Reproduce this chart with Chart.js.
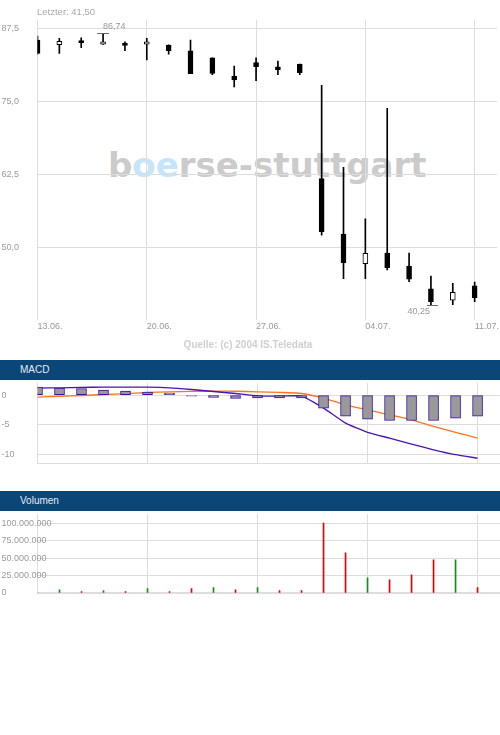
<!DOCTYPE html>
<html>
<head>
<meta charset="utf-8">
<script src="https://cdn.jsdelivr.net/npm/chart.js@4.4.1/dist/chart.umd.min.js"></script>
<style>
  html, body { margin: 0; padding: 0; background: #fff; }
  body { width: 500px; height: 735px; position: relative; overflow: hidden;
         font-family: "Liberation Sans", Arial, sans-serif; }
  .abs { position: absolute; }
  canvas { position: absolute; left: 0; }
  #wm { left: 108px; top: 148px; font: bold 34px "DejaVu Sans"; line-height: 34px;
        color: #cbcbcb; white-space: nowrap; }
  #wm span { color: #c6e5fa; }
  #last { left: 37px; top: 6px; font-size: 9.5px; line-height: 11px; color: #a8a8a8; }
  #src { left: 0; width: 496px; top: 339px; text-align: center; font-weight: bold;
         font-size: 10px; line-height: 12px; color: #cfcfcf; }
  .head { left: 0; width: 500px; height: 20px; background: #0b4679; color: #e4ebf2;
          font-size: 10px; line-height: 20px; padding-left: 20px; box-sizing: border-box; }
</style>
</head>
<body>
<div id="wm" class="abs">b<span>oe</span>rse-stuttgart</div>
<canvas id="price" width="500" height="340" style="top:0"></canvas>
<div id="last" class="abs"></div>
<div id="src" class="abs">Quelle: (c) 2004 IS.Teledata</div>

<div class="abs head" style="top:360px">MACD</div>
<canvas id="macd" width="500" height="85" style="top:380px"></canvas>

<div class="abs head" style="top:491px">Volumen</div>
<canvas id="vol" width="500" height="86" style="top:511px"></canvas>

<script>
/* ── Data ─────────────────────────────────────────────────── */
const dates = ['13.06.','14.06.','15.06.','16.06.','17.06.',
               '20.06.','21.06.','22.06.','23.06.','24.06.',
               '27.06.','28.06.','29.06.','30.06.','01.07.',
               '04.07.','05.07.','06.07.','07.07.','08.07.',
               '11.07.'];
const weekTicks = ['13.06.','20.06.','27.06.','04.07.','11.07.'];

const open  = [85.6, 84.8, 85.5, 84.9, 85.05, 84.9, 84.75, 83.75, 82.55, 79.45,
               81.75, 81.0, 81.5, 61.9, 52.4, 47.3, 49.15, 46.9, 43.0, 41.05, 43.5];
const high  = [86.3, 85.9, 86.0, 86.74, 85.3, 85.9, 84.8, 85.6, 82.55, 81.15,
               82.55, 82.0, 81.5, 77.85, 63.8, 55.0, 73.9, 49.15, 45.2, 43.95, 44.15];
const low   = [83.2, 83.3, 84.3, 84.85, 83.8, 82.2, 83.2, 79.85, 79.7, 77.6,
               78.65, 79.7, 79.7, 52.2, 44.75, 44.75, 46.25, 44.25, 40.25, 40.3, 40.8];
const close = [83.3, 85.4, 85.15, 85.3, 84.7, 85.3, 83.8, 79.85, 79.9, 78.8,
               81.05, 80.55, 80.0, 52.8, 47.5, 49.1, 46.65, 44.65, 40.8, 42.4, 41.5];

const macd      = [1.19, 1.24, 1.3, 1.36, 1.36, 1.36, 1.24, 0.95, 0.61, 0.27,
                   -0.12, -0.17, -0.17, -2.2, -4.75, -6.3, -7.3, -8.3, -9.27, -10.1, -10.7];
const signal    = [-0.34, -0.2, -0.07, 0.1, 0.25, 0.44, 0.55, 0.62, 0.68, 0.65,
                   0.56, 0.45, 0.27, -0.5, -1.64, -2.5, -3.34, -4.19, -5.3, -6.3, -7.3];
const histogram = [1.36, 1.19, 1.12, 0.85, 0.68, 0.51, 0.34, -0.2, -0.4, -0.58,
                   -0.5, -0.5, -0.5, -2.2, -3.56, -4.07, -4.3, -4.3, -4.3, -3.9, -3.56];

const volume = [0, 4700000, 1900000, 3300000, 1900000, 6200000, 1900000, 6200000, 7600000, 4700000,
                7600000, 3300000, 3300000, 100400000, 57600000, 21900000, 19000000, 26200000,
                47600000, 47600000, 7600000];

const priceTicks  = [50, 62.5, 75, 87.5];
const macdTicks   = [-10, -5, 0];
const volumeTicks = [0, 25000000, 50000000, 75000000, 100000000];

/* ── Shared bits ──────────────────────────────────────────── */
const GRID = '#dddddd';
const idx = dates.map((d, i) => i);
const tickIdx = weekTicks.map(d => dates.indexOf(d));
const deNum = (v, dec) => v.toFixed(dec).replace('.', ',');
const thousands = v => String(Math.round(v)).replace(/\B(?=(\d{3})+(?!\d))/g, '.');

Chart.defaults.font.family = '"Liberation Sans", Arial, sans-serif';
Chart.defaults.font.size = 9;
Chart.defaults.color = '#999999';
Chart.defaults.animation = false;
Chart.defaults.events = [];
Chart.defaults.plugins.legend.display = false;
Chart.defaults.plugins.tooltip.enabled = false;

function xAxis(showLabels, height, border) {
  return {
    type: 'linear', min: 0, max: 21.02, offset: false,
    afterBuildTicks: s => { s.ticks = tickIdx.map(v => ({ value: v })); },
    afterFit: s => { s.height = height; },
    grid: { color: GRID, drawTicks: false, offset: false },
    border: border || { display: false },
    ticks: { display: showLabels, align: 'start', padding: 1, maxRotation: 0,
             autoSkip: false, callback: v => dates[v] }
  };
}

function yAxis(ticks, min, max, fmt) {
  return {
    min, max, beginAtZero: false,
    afterBuildTicks: s => { s.ticks = ticks.map(v => ({ value: v })); },
    afterFit: s => { s.width = 36; },
    grid: { color: GRID, drawTicks: false },
    border: { display: false },
    ticks: { mirror: true, padding: -36, callback: fmt }
  };
}

const layoutTop = top => ({ autoPadding: false, padding: { left: 1.5, top: top, right: 0, bottom: 0 } });

/* ── High / low markers ───────────────────────────────────── */
const extremes = {
  id: 'extremes',
  afterDatasetsDraw(chart) {
    const { ctx, scales: { x, y } } = chart;
    const hi = high.indexOf(Math.max(...high));
    const lo = low.indexOf(Math.min(...low));
    ctx.save();
    ctx.strokeStyle = '#666';
    ctx.lineWidth = 1;
    ctx.font = '9px "Liberation Sans", Arial, sans-serif';
    ctx.fillStyle = '#999';

    const hx = x.getPixelForValue(hi), hy = Math.round(y.getPixelForValue(high[hi])) + 0.5;
    ctx.beginPath(); ctx.moveTo(hx - 6, hy); ctx.lineTo(hx + 6, hy); ctx.stroke();
    ctx.textAlign = 'left';
    ctx.fillText(deNum(high[hi], 2), hx, hy - 5);

    const lx = x.getPixelForValue(lo), ly = Math.round(y.getPixelForValue(low[lo])) + 0.5;
    ctx.beginPath(); ctx.moveTo(lx - 4, ly); ctx.lineTo(lx + 7, ly); ctx.stroke();
    ctx.textAlign = 'right';
    ctx.fillText(deNum(low[lo], 2), lx - 1, ly + 8);
    ctx.restore();
  }
};

/* ── Price candles ────────────────────────────────────────── */
const bodyFill = close.map((c, i) => c >= open[i] ? '#ffffff' : '#000000');

new Chart(document.getElementById('price'), {
  type: 'bar',
  data: {
    datasets: [
      { data: idx.map(i => ({ x: i, y: [open[i], close[i]] })),
        backgroundColor: bodyFill, borderColor: '#000', borderWidth: 1,
        borderSkipped: false, barThickness: 5, grouped: false, clip: 0 },
      { data: idx.map(i => ({ x: i, y: [low[i], high[i]] })),
        backgroundColor: '#000', borderWidth: 0,
        barThickness: 1, grouped: false, clip: 0 }
    ]
  },
  options: {
    responsive: false,
    layout: layoutTop(20),
    scales: {
      x: xAxis(true, 20),
      y: yAxis(priceTicks, 37.67, 89.04, v => deNum(v, 1))
    }
  },
  plugins: [extremes]
});

document.getElementById('last').textContent = 'Letzter: ' + deNum(close[close.length - 1], 2);

/* ── MACD ─────────────────────────────────────────────────── */
new Chart(document.getElementById('macd'), {
  type: 'bar',
  data: {
    datasets: [
      { data: idx.map(i => ({ x: i, y: histogram[i] })),
        backgroundColor: '#999999', borderColor: '#3a0ca8', borderWidth: 1,
        borderSkipped: false, barThickness: 10, grouped: false, clip: 0 },
      { type: 'line', data: idx.map(i => ({ x: i, y: macd[i] })),
        borderColor: '#4a14b0', borderWidth: 1.3, pointRadius: 0, tension: 0.15 },
      { type: 'line', data: idx.map(i => ({ x: i, y: signal[i] })),
        borderColor: '#ff7420', borderWidth: 1.3, pointRadius: 0, tension: 0.15 }
    ]
  },
  options: {
    responsive: false,
    layout: layoutTop(3),
    scales: {
      x: xAxis(false, 2, { display: true, color: GRID, width: 1 }),
      y: yAxis(macdTicks, -11.51, 2.05, v => String(v))
    }
  }
});

/* ── Volume ───────────────────────────────────────────────── */
const volColor = close.map((c, i) => c >= (i ? close[i - 1] : open[i]) ? '#109010' : '#e00000');

new Chart(document.getElementById('vol'), {
  type: 'bar',
  data: {
    datasets: [
      { data: idx.map(i => ({ x: i, y: volume[i] })),
        backgroundColor: volColor, borderWidth: 0,
        barThickness: 1, grouped: false, clip: 0 }
    ]
  },
  options: {
    responsive: false,
    layout: layoutTop(3),
    scales: {
      x: xAxis(false, 4, { display: true, color: GRID, width: 2 }),
      y: yAxis(volumeTicks, 0, 113300000, v => thousands(v))
    }
  }
});
</script>
</body>
</html>
